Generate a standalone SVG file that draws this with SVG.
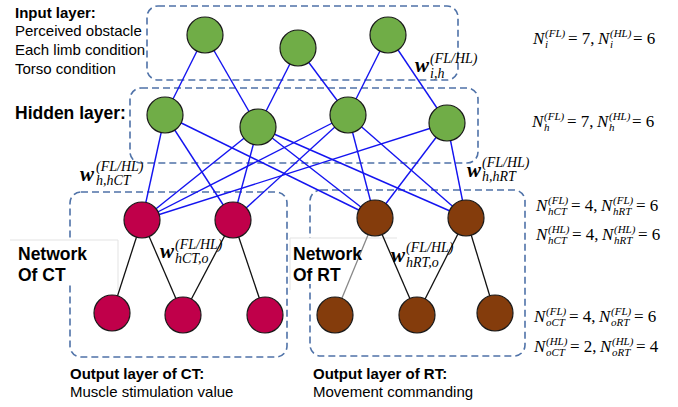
<svg xmlns="http://www.w3.org/2000/svg" width="678" height="407" viewBox="0 0 678 407">
<style>
.box{fill:none;stroke:#4f72a8;stroke-width:1.6;stroke-dasharray:7 4}
.tb{fill:#fff;stroke:none}
.tbl{fill:none;stroke:#e3e3e3;stroke-width:1}
.bl{stroke:#1414f0;stroke-width:1.4;fill:none}
.bk{stroke:#111;stroke-width:1.3;fill:none}
.gr{stroke:#888;stroke-width:1.3;fill:none}
.g{fill:#70ad47;stroke:#1a1a1a;stroke-width:1.2}
.r{fill:#c0004a;stroke:#1a1a1a;stroke-width:1.2}
.b{fill:#843c0c;stroke:#1a1a1a;stroke-width:1.2}
.t{font-family:"Liberation Sans",Arial,sans-serif;font-size:15px;fill:#000}
.tB{font-family:"Liberation Sans",Arial,sans-serif;font-size:15px;font-weight:bold;fill:#000}
.tL{font-family:"Liberation Sans",Arial,sans-serif;font-size:17.5px;font-weight:bold;fill:#000}
.w{font-family:"Liberation Serif","Times New Roman",serif;font-size:21px;font-weight:bold;font-style:italic;fill:#000}
.ws{font-family:"Liberation Serif","Times New Roman",serif;font-size:14px;font-style:italic;fill:#000}
.eq{font-family:"Liberation Serif","Times New Roman",serif;font-size:17px;fill:#000}
.it{font-style:italic}
.sm{font-size:11px;font-style:italic}
</style>

<g id="boxes">
<rect class="box" x="147" y="6" width="311" height="74" rx="11"/>
<rect class="box" x="130" y="88" width="348" height="75" rx="11"/>
<rect class="box" x="70" y="192" width="217" height="165" rx="11"/>
<rect class="box" x="310" y="190" width="215" height="166" rx="11"/>
</g>

<g id="textboxes">
<rect class="tb" x="10" y="240" width="108" height="45"/>
<path class="tbl" d="M10 240H118V290"/>
<rect class="tb" x="290" y="238" width="107" height="46"/>
<path class="tbl" d="M290 290V238H397"/>
</g>

<g id="connectors">
<line class="bl" x1="205" y1="35" x2="165" y2="115"/>
<line class="bl" x1="205" y1="35" x2="258" y2="127"/>
<line class="bl" x1="298" y1="48" x2="258" y2="127"/>
<line class="bl" x1="298" y1="48" x2="348" y2="115"/>
<line class="bl" x1="388" y1="35" x2="348" y2="115"/>
<line class="bl" x1="388" y1="35" x2="447" y2="123"/>
<line class="bl" x1="165" y1="115" x2="142" y2="220"/>
<line class="bl" x1="165" y1="115" x2="233" y2="220"/>
<line class="bl" x1="165" y1="115" x2="375" y2="218"/>
<line class="bl" x1="258" y1="127" x2="142" y2="220"/>
<line class="bl" x1="258" y1="127" x2="233" y2="220"/>
<line class="bl" x1="258" y1="127" x2="375" y2="218"/>
<line class="bl" x1="258" y1="127" x2="466" y2="218"/>
<line class="bl" x1="348" y1="115" x2="142" y2="220"/>
<line class="bl" x1="348" y1="115" x2="233" y2="220"/>
<line class="bl" x1="348" y1="115" x2="375" y2="218"/>
<line class="bl" x1="348" y1="115" x2="466" y2="218"/>
<line class="bl" x1="447" y1="123" x2="142" y2="220"/>
<line class="bl" x1="447" y1="123" x2="375" y2="218"/>
<line class="bl" x1="447" y1="123" x2="466" y2="218"/>
<line class="bk" x1="142" y1="220" x2="112" y2="313"/>
<line class="bk" x1="142" y1="220" x2="183" y2="315"/>
<line class="bk" x1="233" y1="220" x2="183" y2="315"/>
<line class="bk" x1="233" y1="220" x2="265" y2="315"/>
<line class="gr" x1="375" y1="218" x2="335" y2="315"/>
<line class="bk" x1="375" y1="218" x2="417" y2="315"/>
<line class="bk" x1="466" y1="218" x2="417" y2="315"/>
<line class="bk" x1="466" y1="218" x2="495" y2="313"/>
</g>

<g id="in1"><circle class="g" cx="205" cy="35" r="18"/></g>
<g id="in2"><circle class="g" cx="298" cy="48" r="18"/></g>
<g id="in3"><circle class="g" cx="388" cy="35" r="18"/></g>
<g id="h1"><circle class="g" cx="165" cy="115" r="18"/></g>
<g id="h2"><circle class="g" cx="258" cy="127" r="18"/></g>
<g id="h3"><circle class="g" cx="348" cy="115" r="18"/></g>
<g id="h4"><circle class="g" cx="447" cy="123" r="18"/></g>
<g id="ct1"><circle class="r" cx="142" cy="220" r="18"/></g>
<g id="ct2"><circle class="r" cx="233" cy="220" r="18"/></g>
<g id="rt1"><circle class="b" cx="375" cy="218" r="18"/></g>
<g id="rt2"><circle class="b" cx="466" cy="218" r="18"/></g>
<g id="oct1"><circle class="r" cx="112" cy="313" r="18"/></g>
<g id="oct2"><circle class="r" cx="183" cy="315" r="18"/></g>
<g id="oct3"><circle class="r" cx="265" cy="315" r="18"/></g>
<g id="ort1"><circle class="b" cx="335" cy="315" r="18"/></g>
<g id="ort2"><circle class="b" cx="417" cy="315" r="18"/></g>
<g id="ort3"><circle class="b" cx="495" cy="313" r="18"/></g>

<g id="labels">
<text class="tB" x="15" y="18">Input layer:</text>
<text class="t" x="15" y="36">Perceived obstacle</text>
<text class="t" x="15" y="55">Each limb condition</text>
<text class="t" x="15" y="74">Torso condition</text>
<text class="tL" x="15" y="119">Hidden layer:</text>
<text class="tL" x="18" y="260">Network</text>
<text class="tL" x="18" y="281">Of CT</text>
<text class="tL" x="293" y="260">Network</text>
<text class="tL" x="293" y="281">Of RT</text>
<text class="tB" x="70" y="379">Output layer of CT:</text>
<text class="t" x="70" y="397">Muscle stimulation value</text>
<text class="tB" x="313" y="379">Output layer of RT:</text>
<text class="t" x="313" y="397">Movement commanding</text>

<text class="w" x="415" y="72">w</text>
<text class="ws" x="430" y="63">(FL/HL)</text>
<text class="ws" x="430" y="78">i,h</text>

<text class="w" x="80" y="181">w</text>
<text class="ws" x="96" y="171">(FL/HL)</text>
<text class="ws" x="96" y="185">h,hCT</text>

<text class="w" x="467" y="177">w</text>
<text class="ws" x="482" y="167">(FL/HL)</text>
<text class="ws" x="482" y="181">h,hRT</text>

<text class="w" x="160" y="258">w</text>
<text class="ws" x="175" y="249">(FL/HL)</text>
<text class="ws" x="175" y="263">hCT,o</text>

<text class="w" x="391" y="262">w</text>
<text class="ws" x="406" y="252">(FL/HL)</text>
<text class="ws" x="406" y="267">hRT,o</text>

<text class="eq"><tspan class="it" x="533" y="44">N</tspan><tspan class="sm" x="545" y="37">(FL)</tspan><tspan class="sm" x="545" y="48">i</tspan><tspan x="568" y="44">= 7,</tspan><tspan class="it" x="598" y="44">N</tspan><tspan class="sm" x="610" y="37">(HL)</tspan><tspan class="sm" x="610" y="48">i</tspan><tspan x="633" y="44">= 6</tspan></text>

<text class="eq"><tspan class="it" x="532" y="127">N</tspan><tspan class="sm" x="544" y="120">(FL)</tspan><tspan class="sm" x="544" y="131">h</tspan><tspan x="567" y="127">= 7,</tspan><tspan class="it" x="597" y="127">N</tspan><tspan class="sm" x="609" y="120">(HL)</tspan><tspan class="sm" x="609" y="131">h</tspan><tspan x="632" y="127">= 6</tspan></text>

<text class="eq"><tspan class="it" x="536" y="211">N</tspan><tspan class="sm" x="548" y="204">(FL)</tspan><tspan class="sm" x="548" y="215">hCT</tspan><tspan x="571" y="211">= 4,</tspan><tspan class="it" x="601" y="211">N</tspan><tspan class="sm" x="613" y="204">(FL)</tspan><tspan class="sm" x="613" y="215">hRT</tspan><tspan x="636" y="211">= 6</tspan></text>

<text class="eq"><tspan class="it" x="536" y="240">N</tspan><tspan class="sm" x="548" y="233">(HL)</tspan><tspan class="sm" x="548" y="244">hCT</tspan><tspan x="572" y="240">= 4,</tspan><tspan class="it" x="602" y="240">N</tspan><tspan class="sm" x="614" y="233">(HL)</tspan><tspan class="sm" x="614" y="244">hRT</tspan><tspan x="638" y="240">= 6</tspan></text>

<text class="eq"><tspan class="it" x="534" y="322">N</tspan><tspan class="sm" x="546" y="315">(FL)</tspan><tspan class="sm" x="546" y="326">oCT</tspan><tspan x="569" y="322">= 4,</tspan><tspan class="it" x="599" y="322">N</tspan><tspan class="sm" x="611" y="315">(FL)</tspan><tspan class="sm" x="611" y="326">oRT</tspan><tspan x="634" y="322">= 6</tspan></text>

<text class="eq"><tspan class="it" x="534" y="352">N</tspan><tspan class="sm" x="546" y="345">(HL)</tspan><tspan class="sm" x="546" y="356">oCT</tspan><tspan x="570" y="352">= 2,</tspan><tspan class="it" x="600" y="352">N</tspan><tspan class="sm" x="612" y="345">(HL)</tspan><tspan class="sm" x="612" y="356">oRT</tspan><tspan x="636" y="352">= 4</tspan></text>
</g>
</svg>
